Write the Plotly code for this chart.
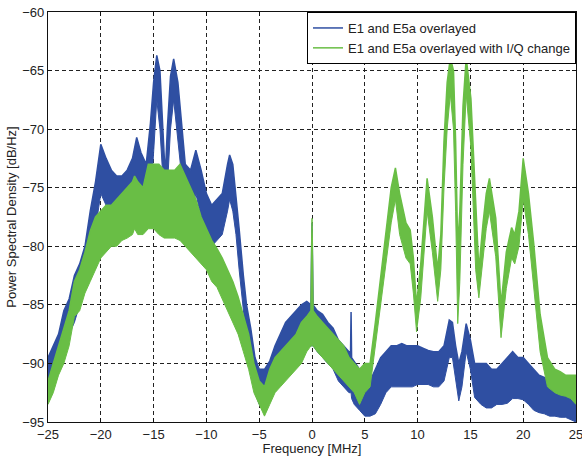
import plotly.graph_objects as go

# ---------------- data ----------------
blue_freq = [-25, -24.5, -24, -23.5, -23, -22.5, -22, -21.5, -21, -20.5, -20, -19.5, -19, -18.5, -18,
             -17.5, -17, -16.6, -16.2, -15.7, -15.3, -15, -14.7, -14.4, -14.1, -13.9, -13.7, -13.4,
             -13.1, -12.7, -12.3, -12, -11.5, -11, -10.5, -10, -9.5, -9, -8.5, -8, -7.8, -7.5, -7.2,
             -6.9, -6.5, -6.2, -5.8, -5.4, -5, -4.5, -4, -3.5, -3, -2.5, -2, -1.5, -1, -0.5, -0.1, 0,
             0.1, 0.5, 1, 1.5, 2, 2.5, 3, 3.5, 3.65, 3.7, 3.75, 4, 4.5, 5, 5.5, 6, 6.5, 7, 7.5, 8, 8.5,
             9, 9.5, 10, 10.5, 11, 11.5, 12, 12.5, 13, 13.3, 13.6, 13.9, 14.2, 14.6, 15, 15.4, 16,
             16.5, 17, 17.5, 18, 18.5, 19, 19.5, 20, 20.5, 21, 21.5, 22, 22.5, 23, 23.5, 24, 24.5, 25]
blue_upper = [-89.5, -88.5, -87.5, -85.5, -84.5, -82.5, -81.5, -80, -77, -74.5, -71.3, -72.5, -73.5, -74,
              -74, -73.5, -72.5, -70.7, -72, -73, -69.5, -66, -63.7, -65, -70, -74, -70, -65.5, -64,
              -66, -70, -73, -73.5, -71.8, -73.5, -75.5, -76.5, -76, -75.5, -73, -72.2, -73, -75.5,
              -78.5, -82.5, -85, -87, -89.5, -90.5, -90.5, -89.8, -88.5, -87.5, -86.5, -86, -85.5,
              -85, -84.7, -85, -78, -85, -85.5, -85.8, -86.5, -87, -88, -88.5, -89, -89, -85.6, -89.5,
              -89.8, -90.5, -91.5, -91.5, -90.5, -89.5, -89, -88.5, -88.5, -88.3, -88.5, -88.5, -88.5,
              -88.7, -88.9, -89, -89, -88.5, -86.3, -86.5, -88.5, -90, -89, -86.6, -88, -90, -90, -90,
              -90.5, -90.5, -90, -89.5, -89, -89.5, -89.5, -90, -90.5, -91, -91.2, -91.5, -91.5, -91.7,
              -91.7, -92, -92.5]
blue_lower = [-92.5, -91.5, -90.5, -88.5, -87.5, -86.5, -85, -83.5, -80.5, -78.5, -75.5, -76.5, -77.5,
              -78, -78.5, -78, -77, -75, -76.5, -77.5, -76, -72, -67.5, -70, -74.5, -77.5, -75, -70,
              -67.5, -71, -74.5, -77, -77.5, -75.5, -77.5, -79.5, -80, -79.5, -79, -77, -76, -77, -79,
              -82, -85.5, -88, -90, -92.5, -93.5, -93.5, -92.5, -91.5, -90.5, -90, -89.5, -89, -88.5,
              -88.5, -88.5, -88.5, -88.5, -89, -89.5, -90, -90.5, -91.5, -92, -92.5, -92.5, -92.5, -93,
              -93.5, -94, -94.5, -94.5, -94.3, -93.5, -92.5, -92, -92, -92, -92, -92, -91.8, -91.8,
              -91.8, -92, -92, -91.5, -89.5, -89.5, -91.5, -93.2, -92, -89, -90.5, -92.9, -93.5, -93.8,
              -93.8, -93.5, -93.5, -93.4, -93, -93, -93.1, -93.5, -94, -94.2, -94.3, -94.5, -94.5,
              -94.6, -94.6, -94.8, -95]

green_freq = [-25, -24.5, -24, -23.5, -23, -22.5, -22, -21.5, -21, -20.5, -20, -19.5, -19, -18.5, -18,
              -17.5, -17, -16.8, -16.5, -16, -15.5, -15, -14.5, -14, -13.5, -13, -12.5, -12, -11.5,
              -11, -10.5, -10, -9.5, -9, -8.5, -8, -7.5, -7, -6.5, -6, -5.5, -5, -4.5, -4, -3.5, -3,
              -2.5, -2, -1.5, -1, -0.5, -0.1, 0, 0.1, 0.5, 1, 1.5, 2, 2.5, 3, 3.5, 4, 4.5, 5, 5.5, 6,
              6.5, 7, 7.5, 7.9, 8.3, 8.9, 9.3, 9.6, 9.9, 10.3, 10.6, 10.9, 11.4, 11.9, 12.2, 12.5, 12.8,
              13.1, 13.4, 13.6, 13.8, 14.0, 14.3, 14.6, 15.05, 15.5, 15.8, 16.2, 16.5, 16.8, 17.4, 17.9,
              18.4, 18.9, 19.2, 19.6, 20, 20.5, 21, 21.6, 22.3, 23, 23.5, 24, 24.5, 25]
green_upper = [-91.5, -90, -88.5, -87, -85.5, -83, -82, -80.5, -78.7, -77.5, -77, -76.5, -76.5, -76,
               -75.5, -75, -74.5, -74, -74.5, -75, -73, -73, -73, -73.5, -73.5, -73.5, -73, -74, -75,
               -76, -77.5, -78.5, -79.5, -80.2, -81, -82, -83, -84.3, -85.8, -87.5, -90, -91.5, -92,
               -90.5, -89.5, -89, -88.5, -88, -87.5, -86.5, -86, -85.5, -77.6, -85.5, -86, -86.5, -87,
               -87.5, -88, -88.5, -89.5, -90, -90.5, -90, -90, -86.5, -82.5, -78.5, -75, -73.3, -75.5,
               -78, -78.6, -81, -85, -81.5, -77.5, -74.2, -77.5, -82, -79, -71, -66, -63.9, -65, -71,
               -80, -77, -68, -63.9, -67.4, -77, -82, -78, -75.5, -74.2, -77.6, -85, -80.5, -78.4, -79,
               -77, -72.5, -75.5, -79.8, -85.8, -89.5, -90.5, -90.7, -91, -91, -91]
green_lower = [-93.5, -92.5, -91, -90, -88.5, -86, -85.5, -84, -83, -82, -81, -80.5, -80, -80, -79.5,
               -79.3, -79, -78.5, -79, -79, -78.5, -78.5, -79, -79.3, -79.3, -79.3, -79.5, -80, -80.5,
               -81, -81.5, -82, -83, -83.5, -84.5, -85.5, -86.5, -87.5, -89, -90.5, -92.5, -93.5,
               -94.5, -93.5, -92.5, -92, -91.5, -91, -90.5, -90, -89, -88.5, -88.5, -88.5, -89, -89.5,
               -90, -90.5, -91, -91.5, -92, -92.5, -93.5, -92.5, -92, -88.5, -85, -81.5, -78, -76, -79,
               -81, -81.5, -84, -87.3, -84.4, -80.5, -77, -80.5, -84.7, -82, -75, -70, -67, -70, -77,
               -86.6, -83, -73, -67, -71.6, -82, -84.4, -81, -78.5, -77, -80.9, -87.8, -83.6, -81,
               -81.5, -80, -76, -79, -83.5, -89, -92, -92.5, -92.7, -92.8, -93, -93.5]

series_names = ["E1 and E5a overlayed", "E1 and E5a overlayed with I/Q change"]
x_ticks = [-25, -20, -15, -10, -5, 0, 5, 10, 15, 20, 25]
y_ticks = [-95, -90, -85, -80, -75, -70, -65, -60]

BLUE = "#2F4FA2"
GREEN = "#69BE45"

fig = go.Figure()
for name, f, up, lo, col in [
    (series_names[0], blue_freq, blue_upper, blue_lower, BLUE),
    (series_names[1], green_freq, green_upper, green_lower, GREEN),
]:
    fig.add_trace(go.Scatter(x=f, y=up, mode="lines", name=name, legendgroup=name,
                             line=dict(color=col, width=1.5), showlegend=True))
    fig.add_trace(go.Scatter(x=f, y=lo, mode="lines", name=name, legendgroup=name,
                             line=dict(color=col, width=1), fill="tonexty",
                             fillcolor=col, showlegend=False))

font_family = "Liberation Sans, Arial, Helvetica, sans-serif"
fig.update_layout(
    width=582, height=456,
    margin=dict(l=48, r=6, t=12, b=34),
    paper_bgcolor="white", plot_bgcolor="white",
    font=dict(family=font_family, size=13, color="#222"),
    showlegend=True,
    legend=dict(x=1, y=1, xanchor="right", yanchor="top", bgcolor="white",
                bordercolor="black", borderwidth=1, font=dict(size=13, color="#222"),
                itemwidth=30, tracegroupgap=0, traceorder="normal"),
)
axis_common = dict(showline=True, linecolor="#111", linewidth=1.2, mirror="ticks",
                   ticks="inside", ticklen=4, tickcolor="#111",
                   showgrid=True, gridcolor="#222", gridwidth=1, griddash="4px,3px",
                   zeroline=False, tickfont=dict(size=13, color="#222"),
                   ticklabeloverflow="allow", automargin=False)
fig.update_xaxes(range=[-25, 25], tickvals=x_ticks,
                 title=dict(text="Frequency [MHz]", standoff=0, font=dict(size=13)),
                 **axis_common)
fig.update_yaxes(range=[-95, -60], tickvals=y_ticks,
                 title=dict(text="Power Spectral Density [dB/Hz]", standoff=2, font=dict(size=13)),
                 **axis_common)

fig.write_html("out.html")
